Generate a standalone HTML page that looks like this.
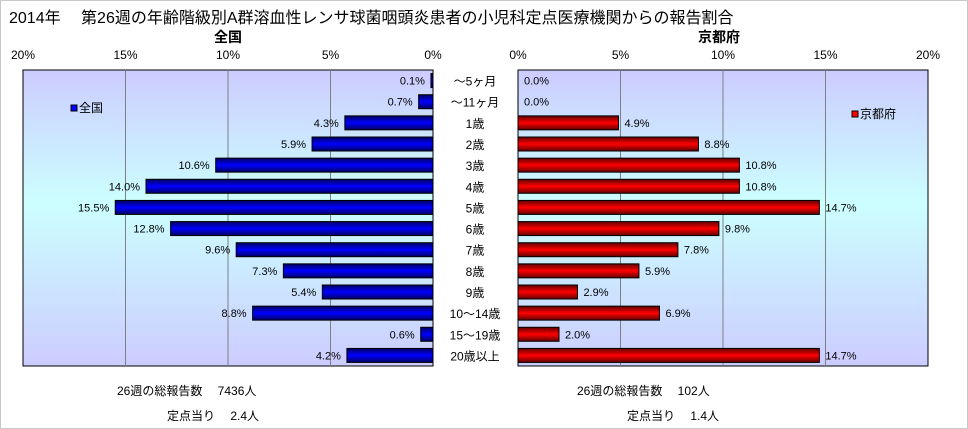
<!DOCTYPE html>
<html><head><meta charset="utf-8">
<style>
body{margin:0;background:#fff;}
#wrap{position:relative;width:966px;height:427px;border:1px solid #c8c8c8;overflow:hidden;font-family:"Liberation Sans","Noto Sans CJK JP",sans-serif;color:#000;}
.t{position:absolute;white-space:nowrap;font-size:12px;}
</style></head>
<body>
<div id="wrap">
<div class="t" style="left:8px;top:3px;font-size:16px;">2014年　 第26週の年齢階級別A群溶血性レンサ球菌咽頭炎患者の小児科定点医療機関からの報告割合</div>
<svg id="svg" width="966" height="427" style="position:absolute;left:0;top:0">
<defs>
<linearGradient id="bg" x1="0" y1="0" x2="0" y2="1">
<stop offset="0" stop-color="#ccccff"/><stop offset="0.45" stop-color="#ccffff"/><stop offset="1" stop-color="#ccccff"/></linearGradient>
<linearGradient id="gb" x1="0" y1="0" x2="0" y2="1">
<stop offset="0" stop-color="#000060"/><stop offset="0.5" stop-color="#0000ff"/><stop offset="1" stop-color="#000060"/></linearGradient>
<linearGradient id="gr" x1="0" y1="0" x2="0" y2="1">
<stop offset="0" stop-color="#600000"/><stop offset="0.5" stop-color="#ff0000"/><stop offset="1" stop-color="#600000"/></linearGradient>
</defs>
<g id="g"></g>
</svg>
<div class="t" style="left:116px;top:381px;">26週の総報告数　 7436人</div>
<div class="t" style="left:166px;top:406px;">定点当り　 2.4人</div>
<div class="t" style="left:576px;top:381px;">26週の総報告数　 102人</div>
<div class="t" style="left:626px;top:406px;">定点当り　 1.4人</div>
</div>
<script>
const categories=["～5ヶ月","～11ヶ月","1歳","2歳","3歳","4歳","5歳","6歳","7歳","8歳","9歳","10～14歳","15～19歳","20歳以上"];
const nationalValues=[0.1,0.7,4.3,5.9,10.6,14.0,15.5,12.8,9.6,7.3,5.4,8.8,0.6,4.2];
const kyotoValues=[0.0,0.0,4.9,8.8,10.8,10.8,14.7,9.8,7.8,5.9,2.9,6.9,2.0,14.7];
const tickValues=[0,5,10,15,20];
const NS="http://www.w3.org/2000/svg";
const g=document.getElementById('g');
const top0=69,bot=365,rowH=(bot-top0)/categories.length,maxV=20;
const L0=22,L1=432,R0=517,R1=927;
function xl(v){return L1-(v/maxV)*(L1-L0);}
function xr(v){return R0+(v/maxV)*(R1-R0);}
function yc(i){return top0+rowH*(i+0.5);}
function mk(tag,attrs){const e=document.createElementNS(NS,tag);for(const k in attrs)e.setAttribute(k,attrs[k]);g.appendChild(e);return e;}
function txt(x,y,s,anchor,size,weight){const e=mk('text',{x:x,y:y,'text-anchor':anchor,'font-size':size||12,'font-family':'"Liberation Sans","Noto Sans CJK JP",sans-serif'});if(weight)e.setAttribute('font-weight',weight);e.textContent=s;return e;}
// plot areas
let p=mk('rect',{x:L0,y:top0,width:L1-L0,height:bot-top0,fill:'url(#bg)',stroke:'#000','stroke-width':1});


p=mk('rect',{x:R0,y:top0,width:R1-R0,height:bot-top0,fill:'url(#bg)',stroke:'#000','stroke-width':1});


tickValues.forEach(v=>{
  if(v>0&&v<maxV){mk('line',{x1:xl(v),x2:xl(v),y1:top0,y2:bot,stroke:'#808080'});mk('line',{x1:xr(v),x2:xr(v),y1:top0,y2:bot,stroke:'#808080'});}
  let t=txt(xl(v),58,v+'%','middle',12);
  
  
  t=txt(xr(v),58,v+'%','middle',12);
  
  
});
let h=txt(227,41,'全国','middle',14,'bold');


h=txt(718,41,'京都府','middle',14,'bold');


const bh=14;
categories.forEach((c,i)=>{
  const y=yc(i);
  let l=txt(474,y+5,c,'middle',12);
  
  
  const nv=nationalValues[i];
  let b=mk('rect',{x:xl(nv),y:y-bh/2,width:L1-xl(nv),height:bh,fill:'url(#gb)',stroke:'#000','stroke-width':1});
  
  
  let v=txt(xl(nv)-6,y+4,nv.toFixed(1)+'%','end',11);
  
  
  const kv=kyotoValues[i];
  if(kv>0){
    b=mk('rect',{x:R0,y:y-bh/2,width:xr(kv)-R0,height:bh,fill:'url(#gr)',stroke:'#000','stroke-width':1});
    
    
  }
  v=txt(Math.max(xr(kv),R0)+6,y+4,kv.toFixed(1)+'%','start',11);
  
  
});
let lg=mk('rect',{x:70,y:104,width:6,height:6,fill:'#0000ff',stroke:'#000'});


lg=txt(78,111,'全国','start',12);


lg=mk('rect',{x:851,y:110,width:6,height:6,fill:'#ff0000',stroke:'#000'});


lg=txt(859,117,'京都府','start',12);


</script>
</body></html>
